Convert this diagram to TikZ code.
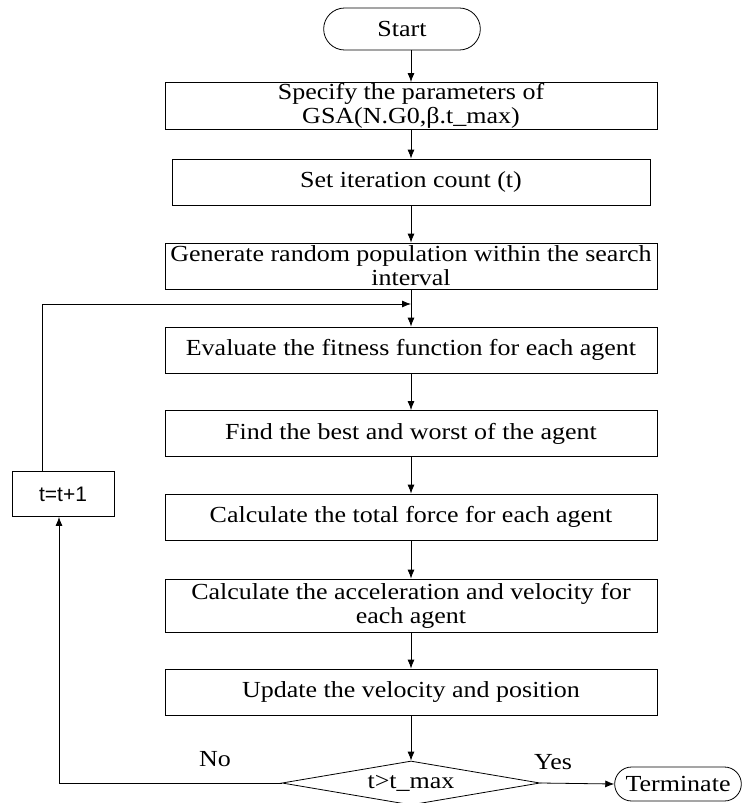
\documentclass[tikz,border=0pt]{standalone}
\usepackage{fontspec}
\setmainfont[FakeStretch=1.13]{Liberation Serif}
\newfontfamily\arialfont{Liberation Sans}
\usetikzlibrary{arrows.meta, shapes.misc, shapes.geometric, positioning}
\tikzset{>={Latex[length=4.5pt,width=3.5pt]}}
\tikzset{
	procbox/.style={draw, thin, minimum width=246pt, minimum height=23pt, align=center, inner sep=0.5pt, font=\fontsize{11.5}{12}\selectfont},
	termbox/.style={draw, thin, rounded rectangle, align=center, font=\fontsize{11.5}{12}\selectfont},
	flow/.style={thin, ->}
}

\begin{document}
\begin{tikzpicture}[x=0.5pt, y=-0.5pt]
	\useasboundingbox (0,0) rectangle (750,803);

	\node [termbox, minimum width=85pt, minimum height=21pt] (start) at (402,29) {Start};
	\node [procbox] (params) at (411,106) {Specify the parameters of\\GSA(N.G0,β.t\_max)};
	\node [procbox, minimum width=239pt] (iter) at (411,182) {Set iteration count (t)};
	\node [procbox] (pop) at (411,266) {Generate random population within the search\\interval};
	\node [procbox] (fit) at (411,350) {Evaluate the fitness function for each agent};
	\node [procbox] (best) at (411,433.5) {Find the best and worst of the agent};
	\node [procbox] (force) at (411,517) {Calculate the total force for each agent};
	\node [procbox, minimum height=26.5pt] (accel) at (411,605.5) {Calculate the acceleration and velocity for\\each agent};
	\node [procbox] (update) at (411,692) {Update the velocity and position};

	\node [draw, thin, diamond, aspect=5.8, inner sep=0pt, minimum width=129pt, minimum height=22pt, font=\fontsize{11.5}{12}\selectfont] (check) at (411,783) {t>t\_max};
	\node [termbox, minimum width=70pt, minimum height=17pt] (stop) at (678,784) {Terminate};

	\node [draw, thin, minimum width=51pt, minimum height=22.5pt, font=\arialfont\fontsize{10.5}{12}\selectfont] (incr) at (63,494) {t=t+1};

	\node [font=\fontsize{11.5}{12}\selectfont] (no) at (215,759) {No};
	\node [font=\fontsize{11.5}{12}\selectfont] (yes) at (553,762) {Yes};

	\coordinate (join) at (411,304);

	% main chain
	\draw [flow] (start.south -| join) -- (join |- params.north);
	\draw [flow] (params.south -| join) -- (join |- iter.north);
	\draw [flow] (iter.south -| join) -- (join |- pop.north);
	\draw [flow] (pop.south -| join) -- (join |- fit.north);
	\draw [flow] (fit.south -| join) -- (join |- best.north);
	\draw [flow] (best.south -| join) -- (join |- force.north);
	\draw [flow] (force.south -| join) -- (join |- accel.north);
	\draw [flow] (accel.south -| join) -- (join |- update.north);
	\draw [flow] (update.south -| join) -- (join |- check.north);
	\draw [flow] (check.east) -- (stop.west);

	% loop back
	\draw [flow] (check.west) -| ([xshift=-2pt]incr.south);
	\draw [flow] ([xshift=-10.5pt]incr.north) |- (join);
\end{tikzpicture}
\end{document}
